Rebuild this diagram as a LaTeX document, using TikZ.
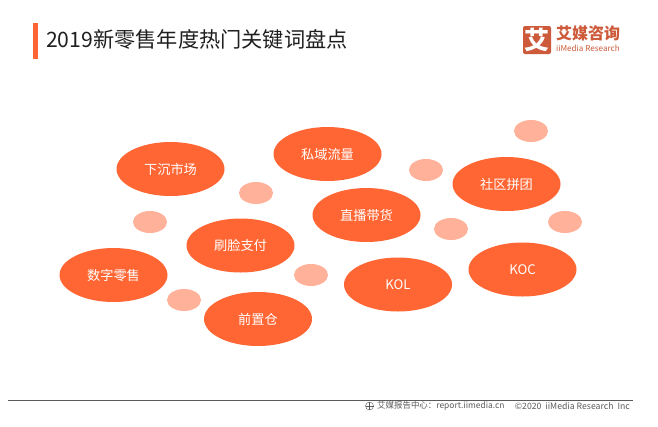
\documentclass[tikz,border=0pt]{standalone}
\usepackage{fontspec}
\setmainfont{Noto Sans CJK SC}
\usetikzlibrary{shapes.geometric}
\definecolor{Bubble}{RGB}{255, 102, 51}
\definecolor{BubbleLight}{RGB}{255, 178, 153}
\definecolor{Logo}{RGB}{205, 90, 58}
\definecolor{Footer}{RGB}{90, 90, 90}
\tikzset{
    keyword/.style={ellipse, fill=Bubble, text=white, minimum width=108pt, minimum height=54pt, inner sep=0pt, font=\fontsize{13.2}{15}\selectfont},
    spot/.style={ellipse, fill=BubbleLight, minimum width=34pt, minimum height=22pt, inner sep=0pt},
}
\begin{document}
\begin{tikzpicture}[x=1pt, y=-1pt]
    %% Background
    \useasboundingbox (0,0) rectangle (658,426);

    %% Title
    \fill[Bubble] (33,23) rectangle (38,59);
    \node[anchor=west, inner sep=0pt, font=\fontsize{21.2}{24}\selectfont, text=black!88] (title) at (46,39) {2019新零售年度热门关键词盘点};

    %% Logo
    \fill[Logo, rounded corners=2pt] (523,26) rectangle (551,54);
    \node[inner sep=0pt, text=white, font=\fontsize{25}{27}\bfseries\selectfont] (logomark) at (537,40) {艾};
    \node[anchor=west, inner sep=0pt, text height=12pt, text depth=1pt, text=Logo, font=\fontsize{16}{17}\bfseries\selectfont] (logoname) at (556,33.5) {艾媒咨询};
    \node[anchor=west, inner sep=0pt, text height=6pt, text depth=1pt, text=Logo, font=\fontsize{8.1}{9}\selectfont] (logosub) at (556,48.5) {iiMedia Research};

    %% Small spots
    \node[spot] (spota) at (531,131) {};
    \node[spot] (spotb) at (426,170) {};
    \node[spot] (spotc) at (256,193) {};
    \node[spot] (spotd) at (150,222) {};
    \node[spot] (spote) at (565,222) {};
    \node[spot] (spotf) at (451,229) {};
    \node[spot] (spotg) at (311,275) {};
    \node[spot] (spoth) at (184,300) {};

    %% Keywords
    \node[keyword] (sinking) at (170.5,169) {下沉市场};
    \node[keyword] (private) at (327.5,154) {私域流量};
    \node[keyword] (live) at (366.5,215) {直播带货};
    \node[keyword] (group) at (506.5,184) {社区拼团};
    \node[keyword] (face) at (240.5,245.5) {刷脸支付};
    \node[keyword] (digital) at (113.5,275) {数字零售};
    \node[keyword] (koc) at (522.5,269.5) {KOC};
    \node[keyword] (kol) at (398,284.5) {KOL};
    \node[keyword] (front) at (258,319) {前置仓};

    %% Footer
    \draw[Footer, line width=0.7pt] (8,400.5) to (633,400.5);
    \draw[Footer] (369.5,406) circle (4pt);
    \draw[Footer, thin] (365.5,406) to (373.5,406) (369.5,402) to (369.5,410);
    \node[anchor=west, inner sep=0pt, text=Footer, font=\fontsize{8.45}{9}\selectfont] (source) at (377,406) {艾媒报告中心：report.iimedia.cn};
    \node[anchor=east, inner sep=0pt, text=Footer, font=\fontsize{8.7}{9}\selectfont] (copyright) at (630,406) {©2020\ \ iiMedia Research\ \ Inc};
\end{tikzpicture}
\end{document}
